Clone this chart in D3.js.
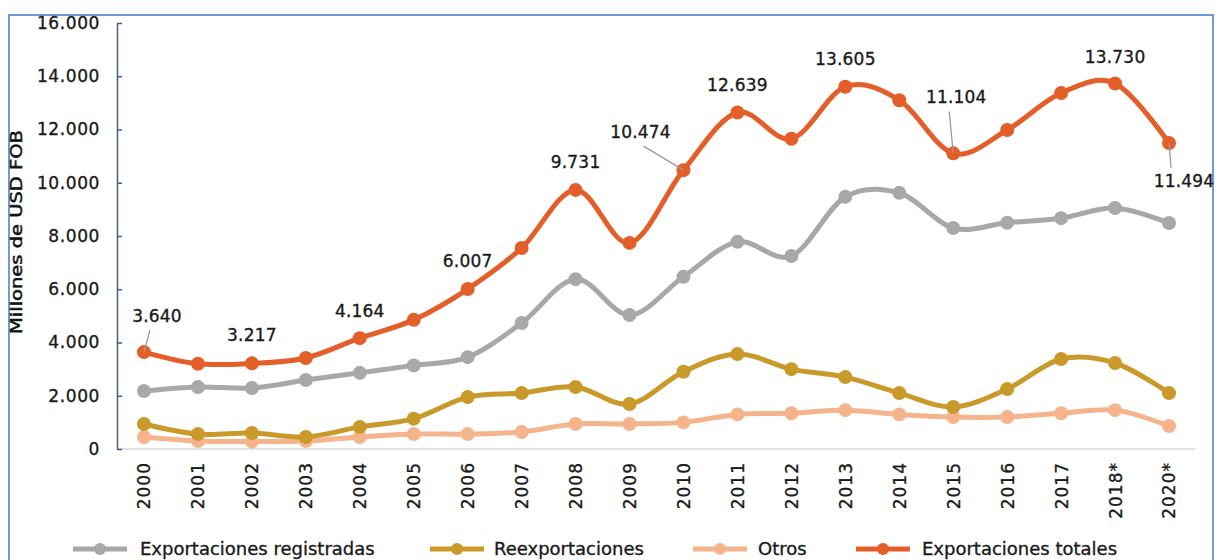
<!DOCTYPE html>
<html><head><meta charset="utf-8">
<script src="https://cdn.jsdelivr.net/npm/d3@7"></script>
<style>
html,body{margin:0;padding:0;background:#fff;}
svg{display:block;font-family:"DejaVu Sans",sans-serif;}
.t{stroke:#1a1a1a;stroke-width:0.35px;paint-order:stroke;}
</style></head>
<body>
<svg id="chart" width="1216" height="560"></svg>
<script>
const years = ["2000","2001","2002","2003","2004","2005","2006","2007","2008","2009","2010","2011","2012","2013","2014","2015","2016","2017","2018*","2020*"];
const registradas = [2180,2330,2290,2590,2860,3140,3450,4730,6380,5030,6470,7780,7250,9470,9620,8300,8500,8670,9050,8490];
const reexportaciones = [940,560,600,450,830,1140,1950,2100,2330,1690,2900,3570,3000,2700,2100,1580,2250,3380,3230,2100];
const otros = [450,300,280,300,450,560,560,640,940,940,1000,1300,1340,1460,1300,1200,1200,1340,1460,860];
const totales = [3640,3200,3217,3420,4164,4850,6007,7550,9731,7740,10474,12639,11650,13605,13100,11104,11980,13370,13730,11494];
const yTicks = [0,2000,4000,6000,8000,10000,12000,14000,16000];
const seriesNames = ["Exportaciones registradas","Reexportaciones","Otros","Exportaciones totales"];
const seriesColors = ["#A8A8A8","#C9992A","#F5B48C","#E35E29"];
const labelledYears = ["2000","2002","2004","2006","2008","2010","2011","2013","2015","2018*","2020*"];
// label placement relative to point: [dx, dy, leader]
const labelPlacement = {
  "2000":[13,-30,true],"2002":[0,-22,false],"2004":[0,-21,false],"2006":[0,-22,false],
  "2008":[0,-22,false],"2010":[-43,-32,true],"2011":[0,-21,false],"2013":[0,-22,false],
  "2015":[3,-50,true],"2018*":[0,-20,false],"2020*":[15,44,true]
};

const svg = d3.select("#chart");
const fmt = d3.formatLocale({decimal:",",thousands:".",grouping:[3],currency:["",""]}).format(",d");

// frame
svg.append("rect").attr("x",9).attr("y",15).attr("width",1204).attr("height",600)
  .attr("fill","none").attr("stroke","#4F7FD0").attr("stroke-width",1.6);

const x = d3.scalePoint().domain(years).range([117,1196]).padding(0.5);
const y = d3.scaleLinear().domain([0,16000]).range([449,23]);

// baseline
svg.append("line").attr("x1",117).attr("x2",1195).attr("y1",y(0)).attr("y2",y(0))
  .attr("stroke","#D9D9D9").attr("stroke-width",1.5);

// y axis
const yAxis = svg.append("g").attr("transform","translate(117,0)")
  .call(d3.axisLeft(y).tickValues(yTicks).tickFormat(fmt).tickSizeInner(-5).tickSizeOuter(0).tickPadding(17));
yAxis.select(".domain").attr("stroke","#4A5C80").attr("stroke-width",1.5);
yAxis.selectAll(".tick line").attr("stroke","#4A5C80").attr("stroke-width",1.5);
yAxis.selectAll(".tick text").attr("font-size",17).attr("fill","#1a1a1a").attr("class","t")
  .attr("font-family","DejaVu Sans").style("letter-spacing","0.6px");

// x axis labels
const xAxis = svg.append("g").attr("transform",`translate(0,${y(0)})`)
  .call(d3.axisBottom(x).tickSize(0).tickPadding(0));
xAxis.select(".domain").remove();
xAxis.selectAll(".tick text")
  .attr("font-size",17).attr("fill","#1a1a1a").attr("font-family","DejaVu Sans").attr("class","t")
  .style("letter-spacing","1px")
  .attr("text-anchor","end").attr("dy","0.35em").attr("y",0).attr("x",-13)
  .attr("transform","rotate(-90)");

// y label
svg.append("text").attr("transform","translate(22,232) rotate(-90)").attr("class","t")
  .attr("text-anchor","middle").attr("font-size",15).attr("fill","#111")
  .attr("textLength",204).attr("lengthAdjust","spacingAndGlyphs")
  .style("stroke-width","0.5px").text("Millones de USD FOB");

const allSeries = [registradas,reexportaciones,otros,totales];
const line = d3.line().x((d,i)=>x(years[i])).y(d=>y(d)).curve(d3.curveCardinal.tension(0));
const drawOrder = [2,1,0,3];
drawOrder.forEach(si=>{
  const g = svg.append("g");
  g.append("path").datum(allSeries[si]).attr("d",line).attr("fill","none")
    .attr("stroke",seriesColors[si]).attr("stroke-width",5).attr("stroke-linejoin","round");
  g.selectAll("circle").data(allSeries[si]).join("circle")
    .attr("cx",(d,i)=>x(years[i])).attr("cy",d=>y(d)).attr("r",7).attr("fill",seriesColors[si]);
});

// data labels
labelledYears.forEach(yr=>{
  const i = years.indexOf(yr);
  const px = x(yr), py = y(totales[i]);
  const [dx,dy,leader] = labelPlacement[yr];
  const tx = px+dx, ty = py+dy;
  if(leader){
    let x1,y1;
    if(dy<0){ x1 = tx - (dx>0?7:-3); y1 = ty+8; }
    else { x1 = tx-13; y1 = ty-19; }
    svg.append("line").attr("x1",x1).attr("y1",y1).attr("x2",px).attr("y2",py)
      .attr("stroke","#9A9A9A").attr("stroke-width",1.3);
  }
  svg.append("text").attr("x",tx).attr("y",ty).attr("text-anchor","middle").attr("class","t")
    .attr("font-size",17).attr("fill","#1a1a1a").style("letter-spacing","0.2px")
    .text(fmt(totales[i]));
});

// legend
const legendItems = [
  {lx:73, tx:140},{lx:430,tx:494},{lx:693,tx:758},{lx:856,tx:922}
];
const legY = 549;
seriesNames.forEach((name,si)=>{
  const it = legendItems[si];
  const lg = svg.append("g");
  lg.append("line").attr("x1",it.lx).attr("x2",it.lx+54).attr("y1",legY).attr("y2",legY)
    .attr("stroke",seriesColors[si]).attr("stroke-width",5);
  lg.append("circle").attr("cx",it.lx+27).attr("cy",legY).attr("r",6).attr("fill",seriesColors[si]);
  lg.append("text").attr("x",it.tx).attr("y",legY).attr("dy","0.35em").attr("class","t")
    .attr("font-size",18).attr("fill","#1a1a1a").text(name);
});
</script>
</body></html>
